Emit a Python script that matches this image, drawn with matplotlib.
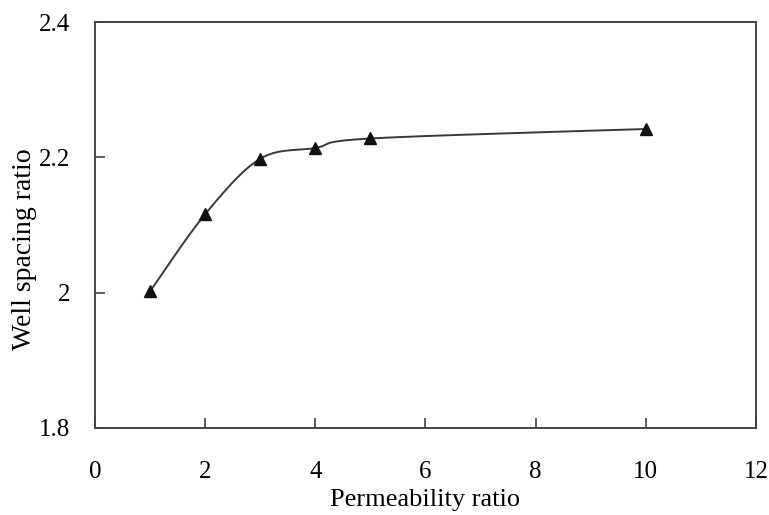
import numpy as np
import matplotlib
matplotlib.use("Agg")
import matplotlib.pyplot as plt

perm_ratio = [1, 2, 3, 4, 5, 10]
spacing_ratio = [2.002, 2.116, 2.198, 2.214, 2.228, 2.242]


def smooth_curve(x, y, n=40):
    # courbe lissee type Excel (Catmull-Rom / Bezier)
    pts = np.column_stack([x, y]).astype(float)
    p = np.vstack([pts[0], pts, pts[-1]])
    out = []
    t = np.linspace(0, 1, n)[:, None]
    for i in range(1, len(p) - 2):
        p0, p1, p2, p3 = p[i - 1], p[i], p[i + 1], p[i + 2]
        c1 = p1 + (p2 - p0) / 6.
        c2 = p2 - (p3 - p1) / 6.
        seg = ((1 - t) ** 3) * p1 + 3 * ((1 - t) ** 2) * t * c1 \
            + 3 * (1 - t) * t ** 2 * c2 + t ** 3 * p2
        out.append(seg)
    out = np.vstack(out)
    return out[:, 0], out[:, 1]


plt.rcParams['font.family'] = ['Liberation Serif', 'DejaVu Serif']

fig = plt.figure(figsize=(7.69, 5.15), dpi=100)
ax = fig.add_axes([0.1235, 0.169, 0.8595, 0.788])

sx, sy = smooth_curve(perm_ratio, spacing_ratio)
ax.plot(sx, sy, color='#3a3a3a', lw=1.4)
ax.plot(perm_ratio, spacing_ratio, ls='none', marker='^', ms=8,
        color='#111111')

ax.set_xlim(0, 12)
ax.set_ylim(1.8, 2.4)
ax.set_xticks([0, 2, 4, 6, 8, 10, 12])
ax.set_yticks([1.8, 2.0, 2.2, 2.4])
ax.set_yticklabels(['1.8', '2', '2.2', '2.4'])
ax.tick_params(direction='in', length=7, width=1.2, color='#444444',
               labelsize=18, pad=18)
ax.tick_params(axis='x', pad=24)
for s in ax.spines.values():
    s.set_color('#444444')
    s.set_linewidth(1.4)

ax.set_xlabel("Permeability ratio", fontsize=19, labelpad=4)
ax.set_ylabel("Well spacing ratio", fontsize=20)
ax.yaxis.set_label_coords(-0.088, 0.44)

plt.savefig("out.png", dpi=100)
